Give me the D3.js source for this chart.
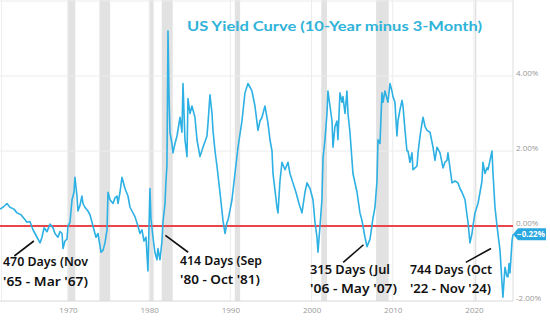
<!DOCTYPE html>
<html><head><meta charset="utf-8">
<script src="https://cdn.jsdelivr.net/npm/d3@7"></script>
<style>body{margin:0;background:#fff}svg{display:block}</style>
</head><body>
<svg id="c" width="550" height="323"></svg>
<script>
const title = "US Yield Curve (10-Year minus 3-Month)";
const years = [1961.63,1962.00,1962.49,1962.86,1963.35,1963.72,1964.22,1964.59,1964.96,1965.32,1965.69,1966.19,1966.56,1966.80,1967.05,1967.42,1967.79,1968.16,1968.40,1968.77,1969.02,1969.27,1969.39,1969.63,1969.88,1970.00,1970.25,1970.50,1970.74,1970.86,1971.11,1971.23,1971.48,1971.72,1971.85,1972.09,1972.46,1972.71,1972.96,1973.20,1973.45,1973.70,1974.07,1974.31,1974.56,1974.81,1974.93,1975.18,1975.55,1975.79,1976.04,1976.16,1976.41,1976.65,1976.90,1977.02,1977.39,1977.64,1977.88,1978.25,1978.62,1978.87,1979.11,1979.36,1979.61,1979.85,1980.10,1980.22,1980.47,1980.71,1980.96,1981.08,1981.33,1981.58,1981.70,1981.95,1982.07,1982.19,1982.32,1982.44,1982.56,1982.81,1982.93,1983.18,1983.43,1983.80,1984.04,1984.17,1984.41,1984.66,1984.78,1985.03,1985.27,1985.64,1985.89,1986.26,1986.63,1987.12,1987.25,1987.49,1987.74,1987.86,1988.11,1988.35,1988.72,1989.09,1989.34,1989.59,1989.71,1990.20,1990.57,1990.94,1991.43,1991.80,1992.17,1992.42,1992.66,1993.03,1993.40,1993.65,1993.90,1994.26,1994.63,1994.88,1995.13,1995.25,1995.50,1995.74,1995.87,1996.11,1996.36,1996.73,1997.10,1997.34,1997.71,1998.08,1998.45,1998.82,1999.19,1999.44,1999.81,2000.18,2000.42,2000.67,2000.79,2001.04,2001.28,2001.41,2001.65,2001.90,2002.02,2002.27,2002.52,2002.64,2002.88,2003.13,2003.25,2003.50,2003.75,2003.87,2004.12,2004.36,2004.49,2004.73,2005.10,2005.60,2005.96,2006.21,2006.33,2006.58,2006.83,2007.20,2007.56,2007.81,2008.06,2008.18,2008.43,2008.67,2008.80,2009.04,2009.41,2009.66,2009.90,2010.03,2010.27,2010.52,2010.64,2010.89,2011.14,2011.26,2011.51,2011.75,2011.88,2012.12,2012.37,2012.49,2012.74,2012.99,2013.11,2013.36,2013.61,2013.73,2013.98,2014.22,2014.59,2014.96,2015.20,2015.45,2015.82,2016.19,2016.43,2016.68,2016.80,2017.05,2017.30,2017.67,2018.03,2018.28,2018.53,2018.90,2019.14,2019.27,2019.51,2019.76,2019.88,2020.13,2020.50,2020.75,2020.99,2021.11,2021.36,2021.61,2021.73,2021.98,2022.22,2022.35,2022.59,2022.84,2023.21,2023.45,2023.57,2023.82,2024.07,2024.19,2024.32,2024.44,2024.69,2024.81];
const spread = [0.45,0.5,0.6,0.5,0.45,0.35,0.3,0.2,0.1,0.12,-0.1,-0.3,-0.45,-0.3,-0.05,-0.15,0.05,-0.05,-0.2,-0.3,-0.15,-0.2,-0.6,-0.4,-0.35,0,0.1,0.7,0.9,1.3,0.8,0.4,0.55,0.8,0.6,0.5,0.4,0.3,0.1,-0.1,-0.3,-0.2,-0.7,-0.65,-0.45,-0.1,0.9,0.7,0.6,0.75,0.8,0.6,0.9,1.3,1.1,1.0,0.8,0.5,0.4,0.25,0,-0.2,-0.1,-0.4,-0.3,-1.2,1.0,0.2,-0.3,-0.7,-0.9,-0.6,-0.9,-0.4,0.1,0.6,1.2,1.6,5.2,3.5,2.5,2.2,1.95,2.2,2.4,2.9,2.5,3.8,2.3,1.85,3.4,3.0,3.2,2.9,2.3,1.85,2.1,2.4,2.75,3.5,3.0,2.55,2.0,1.6,0.9,0.15,-0.2,0.1,0.15,0.7,1.4,2.1,2.8,3.55,3.8,3.7,3.6,3.2,2.55,2.8,2.9,3.2,2.75,2.3,2.0,1.4,0.95,0.5,0.35,1.2,1.7,1.5,1.7,1.4,1.15,0.9,0.6,0.35,0.9,1.15,1.0,0.7,0.1,-0.3,-0.7,0.0,0.7,1.8,2.3,3.0,3.6,3.2,2.8,2.1,2.65,2.8,2.3,3.55,3.3,3.45,3.0,3.6,3.0,2.5,1.4,0.9,0.35,0.15,0.0,-0.3,-0.55,-0.35,0.2,0.5,1.2,2.3,2.2,3.55,3.3,3.6,3.3,3.8,3.6,3.45,3.3,2.4,2.8,3.1,3.35,3.2,2.55,2.0,2.0,1.7,1.95,1.5,1.55,1.6,1.95,2.4,2.75,2.9,2.65,2.55,2.5,2.1,1.75,2.1,1.95,1.55,1.7,1.75,1.95,1.55,1.15,1.2,1.15,1.0,0.9,0.7,0.3,0.1,-0.45,-0.2,0.0,0.35,0.6,0.9,1.2,1.7,1.4,1.55,1.5,1.75,2.0,1.4,0.5,0.0,-0.65,-1.5,-1.9,-1.1,-1.35,-1.35,-1.0,-1.25,-0.4,-0.22];
const recessionStart = [1969.95,1973.88,1980.05,1981.55,1990.55,2001.2,2007.95,2020.1];
const recessionEnd   = [1970.9,1975.2,1980.55,1982.9,1991.2,2001.9,2009.5,2020.3];
const yTicks = [4,2,0,-2];
const yTickLabels = ["4.00%","2.00%","0.00%","-2.00%"];
const xTicks = [1970,1980,1990,2000,2010,2020];
const lastValue = -0.22;
const notes = [
  {l1:"470 Days (Nov", l2:"'65 - Mar '67)", tx:3, b1:266, b2:286, w1:85, w2:85, from:[1963.4,-0.8], to:[1965.8,-0.4]},
  {l1:"414 Days (Sep", l2:"'80 - Oct '81)", tx:180, b1:265, b2:284, w1:82, w2:80, from:[1982.0,-0.25], to:[1984.8,-0.7]},
  {l1:"315 Days (Jul", l2:"'06 - May '07)", tx:310, b1:274, b2:293, w1:80, w2:87, from:[2006.4,-0.5], to:[2003.9,-0.97]},
  {l1:"744 Days (Oct", l2:"'22 - Nov '24)", tx:410, b1:274, b2:293, w1:82, w2:81, from:[2022.1,-0.6], to:[2019.0,-0.97]}
];

const svg = d3.select("#c");
const x = d3.scaleLinear().domain([1961.63, 2024.81]).range([0, 513]);
const y = d3.scaleLinear().domain([-2, 6]).range([301, 1]);

// recession bands
svg.append("g").selectAll("rect").data(recessionStart).join("rect")
  .attr("x", (d) => x(d)).attr("y", 0)
  .attr("width", (d,i) => Math.max(1.5, x(recessionEnd[i]) - x(d)))
  .attr("height", y(-2)).attr("fill", "#e2e2e2");

// vertical grid
svg.append("g").selectAll("line").data(xTicks).join("line")
  .attr("x1", d => x(d)).attr("x2", d => x(d)).attr("y1", 0).attr("y2", y(-2))
  .attr("stroke", "#ececec").attr("stroke-width", 1);
// horizontal grid
svg.append("g").selectAll("line").data([6,4,2]).join("line")
  .attr("x1", 0).attr("x2", x(2024.81)).attr("y1", d => y(d)).attr("y2", d => y(d))
  .attr("stroke", "#ececec").attr("stroke-width", 1);
// borders
svg.append("line").attr("x1", x(2024.81)).attr("x2", x(2024.81)).attr("y1", 0).attr("y2", y(-2)).attr("stroke", "#ddd");
svg.append("line").attr("x1", 0).attr("x2", x(2024.81)).attr("y1", y(-2)).attr("y2", y(-2)).attr("stroke", "#d8d8d8");
svg.append("line").attr("x1", 1.5).attr("x2", 1.5).attr("y1", 0).attr("y2", y(-2)).attr("stroke", "#eee");

// x axis labels
const xAxis = d3.axisBottom(x).tickValues(xTicks).tickFormat(d3.format("d")).tickSize(0).tickPadding(4);
const gx = svg.append("g").attr("transform", `translate(0,${y(-2)+2})`).call(xAxis);
gx.select(".domain").remove();
gx.selectAll("text").attr("fill", "#9a9a9a").attr("font-size", 8).attr("font-family", "Open Sans, sans-serif");

// y axis labels
const yAxis = d3.axisRight(y).tickValues(yTicks).tickFormat((d,i) => yTickLabels[i]).tickSize(0).tickPadding(0);
const gy = svg.append("g").attr("transform", `translate(516,-3)`).call(yAxis);
gy.select(".domain").remove();
gy.selectAll("text").attr("fill", "#9a9a9a").attr("font-size", 8).attr("font-family", "Open Sans, sans-serif");

// zero line
svg.append("line").attr("x1", 0).attr("x2", x(2024.81)).attr("y1", y(0)).attr("y2", y(0))
  .attr("stroke", "#e8474a").attr("stroke-width", 2);

// series
const pts = years.map((d,i) => [d, spread[i]]);
svg.append("path").datum(pts)
  .attr("fill", "none").attr("stroke", "#2db0e3").attr("stroke-width", 1.6).attr("stroke-linejoin", "round")
  .attr("d", d3.line().x(d => x(d[0])).y(d => y(d[1])));

// last value badge
const by = y(lastValue);
svg.append("path")
  .attr("d", `M${x(2024.81)},${by} L${x(2024.81)+5},${by-6} L546,${by-6} L546,${by+6} L${x(2024.81)+5},${by+6} Z`)
  .attr("fill", "#2aa8e0");
svg.append("text").attr("x", 531).attr("y", by + 3).attr("text-anchor", "middle")
  .attr("fill", "#fff").attr("font-size", 8).attr("font-weight", "bold").attr("font-family", "Open Sans, sans-serif")
  .text(d3.format(".2f")(lastValue) + "%");

// title
svg.append("text").attr("x", 187).attr("y", 31).attr("fill", "#2fb3d8")
  .attr("font-size", 14).attr("font-family", "Lato, sans-serif").attr("font-weight", "bold")
  .attr("textLength", 295).attr("lengthAdjust", "spacingAndGlyphs").text(title);

// annotations
const ga = svg.append("g");
notes.forEach(n => {
  ga.append("line").attr("x1", x(n.from[0])).attr("y1", y(n.from[1])).attr("x2", x(n.to[0])).attr("y2", y(n.to[1]))
    .attr("stroke", "#111").attr("stroke-width", 1.6);
  ga.append("text").attr("x", n.tx).attr("y", n.b1).attr("fill", "#111").attr("font-size", 13)
    .attr("font-family", "Noto Sans, sans-serif").attr("font-weight", 600)
    .attr("textLength", n.w1).attr("lengthAdjust", "spacingAndGlyphs").text(n.l1);
  ga.append("text").attr("x", n.tx).attr("y", n.b2).attr("fill", "#111").attr("font-size", 13)
    .attr("font-family", "Noto Sans, sans-serif").attr("font-weight", 600)
    .attr("textLength", n.w2).attr("lengthAdjust", "spacingAndGlyphs").text(n.l2);
});
</script>
</body></html>
